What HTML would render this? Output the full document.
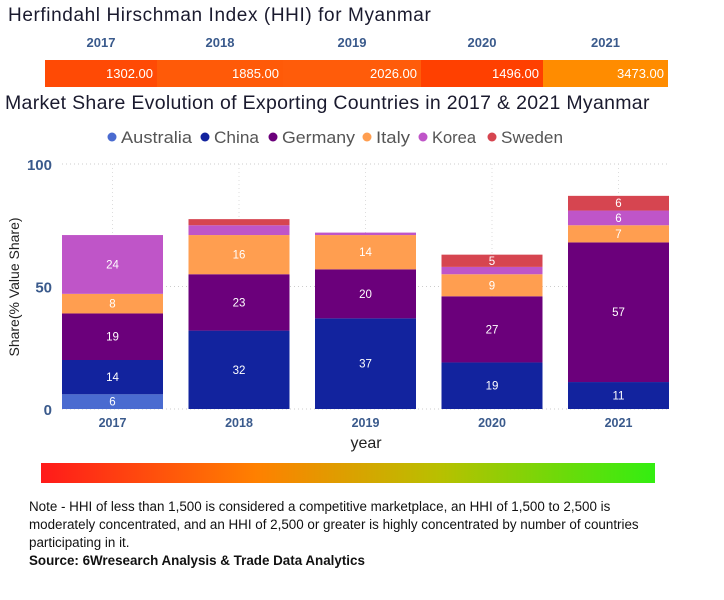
<!DOCTYPE html>
<html><head><meta charset="utf-8"><style>
body{margin:0;width:724px;height:600px;background:#fff;font-family:"Liberation Sans",sans-serif;position:relative;overflow:hidden}
.abs{position:absolute}
</style></head><body>
<div class="abs" style="left:8px;top:5px;font-size:19px;letter-spacing:0.6px;color:#1a1a2e">Herfindahl Hirschman Index (HHI) for Myanmar</div>
<div id="hhi"></div>
<div class="abs" style="left:5px;top:92px;font-size:19.5px;letter-spacing:0.3px;color:#1a1a2e">Market Share Evolution of Exporting Countries in 2017 &amp; 2021 Myanmar</div>
<svg id="chart" class="abs" style="left:0;top:120px" width="724" height="340"></svg>
<div class="abs" style="left:41px;top:463px;width:614px;height:20px;background:linear-gradient(to right,#ff1a1a,#ff8000 35%,#b8c000 65%,#33ee11)"></div>
<div class="abs" style="left:29px;top:498px;width:645px;font-size:13.4px;line-height:18px;color:#111">Note - HHI of less than 1,500 is considered a competitive marketplace, an HHI of 1,500 to 2,500 is moderately concentrated, and an HHI of 2,500 or greater is highly concentrated by number of countries participating in it.<br><b>Source: 6Wresearch Analysis &amp; Trade Data Analytics</b></div>
<script>
const hhiYears=["2017","2018","2019","2020","2021"];
const hhiValues=[1302,1885,2026,1496,3473];
const hhiColors=["#ff4a05","#ff5a08","#ff5c0a","#ff4000","#ff8c00"];
const hhiBounds=[45,157,283,421,543,668];
const hhi=document.getElementById('hhi');
hhiYears.forEach((y,i)=>{
  const l=document.createElement('div');l.className='abs';
  
  
  l.style.cssText=`left:${hhiBounds[i]}px;width:${hhiBounds[i+1]-hhiBounds[i]}px;top:35px;text-align:center;font-size:13px;font-weight:bold;color:#3a5a8c`;
  l.textContent=y;hhi.appendChild(l);
  const s=document.createElement('div');s.className='abs';
  
  
  s.style.cssText=`left:${hhiBounds[i]}px;width:${hhiBounds[i+1]-hhiBounds[i]-4}px;padding-right:4px;top:60px;height:27px;line-height:27px;text-align:right;font-size:13px;color:#fff;background:${hhiColors[i]}`;
  s.textContent=hhiValues[i].toFixed(2);hhi.appendChild(s);
});

const categories=["2017","2018","2019","2020","2021"];
const seriesNames=["Australia","China","Germany","Italy","Korea","Sweden"];
const australia=[6,0,0,0,0];
const china=[14,32,37,19,11];
const germany=[19,23,20,27,57];
const italy=[8,16,14,9,7];
const korea=[24,4,1,3,6];
const sweden=[0,2.5,0,5,6];
const yTicks=[0,50,100];
const series=[australia,china,germany,italy,korea,sweden];
const colors=["#4a6bd0","#12239e","#6b007b","#ff9e50","#bf55c8","#d64550"];
const svg=document.getElementById('chart');const NS='http://www.w3.org/2000/svg';
const y0=289,yScale=v=>y0-v*2.45;
const xLeft=i=>62+i*126.5,bw=101;
function el(t,a,txt){const e=document.createElementNS(NS,t);for(const k in a)e.setAttribute(k,a[k]);if(txt!==undefined)e.textContent=txt;svg.appendChild(e);return e;}
// legend
const lx=[107,200,268,362,418,487];
const lw=[71,45,73,34,44,62];
seriesNames.forEach((n,i)=>{
  const c=el('circle',{cx:lx[i]+5,cy:17,r:4.5,fill:colors[i]});
  
  
  const t=el('text',{x:lx[i]+14,y:23,'font-size':17,fill:'#555',textLength:lw[i],lengthAdjust:'spacingAndGlyphs'},n);
  
  
});
// grid
yTicks.forEach(v=>{
  const g=el('line',{x1:62,x2:670,y1:yScale(v),y2:yScale(v),stroke:'#ccc','stroke-dasharray':'1 3'});
  
  
  const t=el('text',{x:52,y:yScale(v)+6,'text-anchor':'end','font-size':15,'font-weight':'bold',fill:'#3a5a8c'},v);
  
  
});
categories.forEach((c,i)=>{
  const g=el('line',{x1:xLeft(i)+bw/2,x2:xLeft(i)+bw/2,y1:yScale(100),y2:y0,stroke:'#ddd','stroke-dasharray':'1 3'});
  
  
});
categories.forEach((c,i)=>{
  let acc=0;
  series.forEach((s,j)=>{
    const v=s[i];if(!v)return;
    const r=el('rect',{x:xLeft(i),width:bw,y:yScale(acc+v),height:v*2.45,fill:colors[j]});
    
    
    if(v>=5){const t=el('text',{x:xLeft(i)+bw/2,y:yScale(acc+v/2)+4,'text-anchor':'middle','font-size':11.5,fill:'#fff'},Math.round(v));
      
      }
    acc+=v;
  });
  const t=el('text',{x:xLeft(i)+bw/2,y:y0+18,'text-anchor':'middle','font-size':12.5,'font-weight':'bold',fill:'#3a5a8c'},c);
  
  
});
const xt=el('text',{x:366,y:328,'text-anchor':'middle','font-size':16,fill:'#222'},'year');


const yt=el('text',{x:0,y:0,'text-anchor':'middle','font-size':14,fill:'#222',transform:'translate(19,167) rotate(-90)'},'Share(% Value Share)');


</script>
</body></html>
